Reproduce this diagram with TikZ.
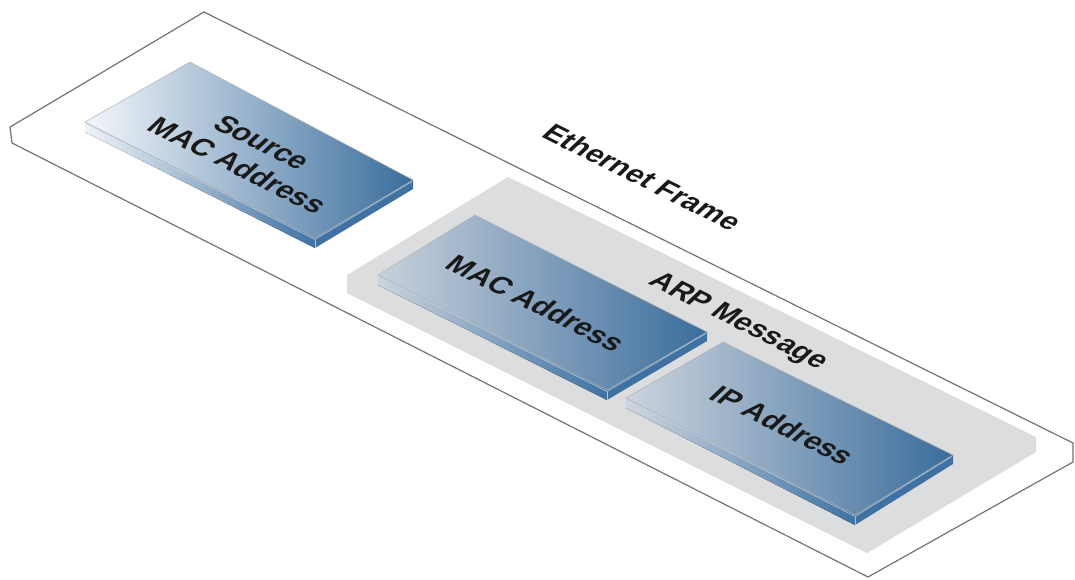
\documentclass[tikz,border=0pt]{standalone}
\usepackage{fontspec}
\setmainfont{Liberation Sans}
\usetikzlibrary{calc}
\begin{document}
\begin{tikzpicture}[x=1pt,y=1pt,
  framecol/.style={draw=black!55,line width=1.2pt,fill=white,line join=round},
  arpslab/.style={fill=arpgray},
  rightface/.style={fill=sidedark},
  lbl/.style={font=\fontsize{27}{32}\selectfont\bfseries,text=black!90,align=center,inner sep=0pt,transform shape},
  iso/.style={cm={0.96,-0.48,0.76,0.72,(0,0)}}
]
\definecolor{arpgray}{HTML}{DCDDDF}
\definecolor{slablight}{HTML}{F2F5F9}
\definecolor{slabdark}{HTML}{3A6D9C}
\definecolor{sidelight}{HTML}{DCE4EE}
\definecolor{sidedark}{HTML}{3F72A2}
\useasboundingbox (0,0) rectangle (1075,-579);

% Ethernet frame outline
\draw[framecol] (204,-12) -- (10,-127) -- (12,-143) -- (868,-577) -- (1073,-462) -- (1073,-443) -- cycle;

% ARP message slab
\fill[arpslab] (508,-177) -- (347,-275) -- (347,-293) -- (867,-553) -- (1036,-452) -- (1036,-437) -- cycle;

% Source MAC slab
\coordinate (sT) at (190,-62);  \coordinate (sL) at (85,-122);
\coordinate (sB) at (315,-238); \coordinate (sR) at (413,-180);
% MAC slab
\coordinate (mT) at (475,-215); \coordinate (mL) at (378,-275);
\coordinate (mB) at (607,-390); \coordinate (mR) at (707,-332);
% IP slab
\coordinate (iT) at (723,-342); \coordinate (iL) at (626,-398);
\coordinate (iB) at (855,-515); \coordinate (iR) at (953,-455);

\foreach \p/\lc in {s/F4F7FB,m/C9D1DC,i/CDD4DE}{
  \definecolor{tl}{HTML}{\lc}
  \fill[left color=tl!85!sidelight,right color=sidedark] (\p L) -- (\p B) -- ($(\p B)+(0,-10)$) -- ($(\p L)+(0,-10)$) -- cycle;
  \fill[rightface] (\p B) -- (\p R) -- ($(\p R)+(0,-9)$) -- ($(\p B)+(0,-10)$) -- cycle;
  \shade[left color=tl,right color=slabdark,draw=black!30,line width=0.5pt] (\p T) -- (\p L) -- (\p B) -- (\p R) -- cycle;
  \draw[white!70!slabdark,line width=0.5pt] ($(\p L)+(1,-1.5)$) -- ($(\p B)+(0,-1.5)$) -- ($(\p R)+(-1,-1.5)$);
  \draw[white!60!slabdark,line width=0.5pt] ($(\p B)+(0,-1.5)$) -- ($(\p B)+(0,-10)$);
}

% labels
\begin{scope}[shift={(250,-154)}]
  \node[lbl,iso] (src) at (0,0) {Source\\MAC Address};
\end{scope}
\begin{scope}[shift={(536,-303)}]
  \node[lbl,iso] (mac) at (0,0) {MAC Address};
\end{scope}
\begin{scope}[shift={(783,-425)}]
  \node[lbl,iso] (ip) at (0,0) {IP Address};
\end{scope}
\begin{scope}[shift={(738,-322)}]
  \node[lbl,iso] (arp) at (0,0) {ARP Message};
\end{scope}
\begin{scope}[shift={(643,-177)}]
  \node[lbl,iso] (eth) at (0,0) {Ethernet Frame};
\end{scope}
\end{tikzpicture}
\end{document}
